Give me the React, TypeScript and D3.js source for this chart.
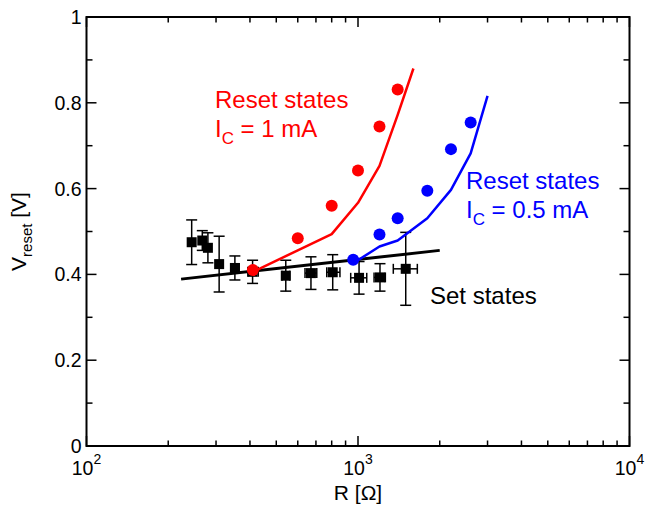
import React, { useEffect, useRef } from "react";
import * as d3 from "d3";

// set states (black squares with error bars)
const setR = [244, 267, 280, 308, 352, 409, 542, 671, 807, 1009, 1205, 1499];
const setV = [0.475, 0.479, 0.462, 0.424, 0.415, 0.406, 0.397, 0.403, 0.405, 0.392, 0.393, 0.413];
const setVErr = [0.052, 0.023, 0.035, 0.065, 0.028, 0.027, 0.036, 0.038, 0.041, 0.038, 0.032, 0.085];
const setRLo = [244, 267, 280, 308, 340, 393, 525, 638, 767, 940, 1146, 1349];
const setRHi = [244, 267, 280, 308, 365, 429, 560, 705, 858, 1077, 1261, 1654];
const setFitR = [223, 2000];
const setFitV = [0.389, 0.456];

// reset states, Ic = 1 mA
const reset1R = [410, 600, 800, 1000, 1200, 1400];
const reset1V = [0.41, 0.484, 0.56, 0.642, 0.745, 0.831];
const model1R = [410, 600, 800, 1000, 1200, 1400, 1600];
const model1V = [0.406, 0.456, 0.494, 0.567, 0.653, 0.772, 0.88];

// reset states, Ic = 0.5 mA
const reset05R = [960, 1200, 1400, 1800, 2200, 2600];
const reset05V = [0.434, 0.493, 0.531, 0.595, 0.692, 0.754];
const model05R = [960, 1200, 1400, 1800, 2200, 2600, 3000];
const model05V = [0.426, 0.465, 0.479, 0.531, 0.597, 0.682, 0.816];

const yTickLabels = ["0", "0.2", "0.4", "0.6", "0.8", "1"];
const xTickExps = [2, 3, 4];

const FONT = "'Liberation Sans', Arial, Helvetica, sans-serif";

const Chart = () => {
  const ref = useRef<SVGSVGElement>(null);

  useEffect(() => {
    const width = 645;
    const height = 507;
    const left = 86.5;
    const right = 629.5;
    const top = 17;
    const bottom = 446;

    const x = d3.scaleLog().domain([100, 10000]).range([left, right]);
    const y = d3.scaleLinear().domain([0, 1]).range([bottom, top]);

    const svg = d3.select(ref.current).attr("width", width).attr("height", height);
    svg.selectAll("*").remove();

    // frame
    svg
      .append("rect")
      .attr("x", left)
      .attr("y", top)
      .attr("width", right - left)
      .attr("height", bottom - top)
      .attr("fill", "none")
      .attr("stroke", "#000")
      .attr("stroke-width", 2);

    // x ticks (bottom + top, inward)
    const xMajor = xTickExps.map((e) => Math.pow(10, e));
    const xMinor: number[] = [];
    [100, 1000].forEach((d) => {
      for (let k = 2; k <= 9; k++) xMinor.push(d * k);
    });
    const ticks = svg.append("g").attr("stroke", "#000").attr("stroke-width", 1.5);
    xMajor.concat(xMinor).forEach((v) => {
      const len = xMajor.includes(v) ? 10 : 5.5;
      ticks.append("line").attr("x1", x(v)).attr("x2", x(v)).attr("y1", bottom).attr("y2", bottom - len);
      ticks.append("line").attr("x1", x(v)).attr("x2", x(v)).attr("y1", top).attr("y2", top + len);
    });
    // y ticks (left + right)
    d3.range(0, 11).forEach((i) => {
      const v = i / 10;
      const len = i % 2 === 0 ? 10 : 6;
      ticks.append("line").attr("x1", left).attr("x2", left + len).attr("y1", y(v)).attr("y2", y(v));
      ticks.append("line").attr("x1", right).attr("x2", right - len).attr("y1", y(v)).attr("y2", y(v));
    });

    // tick labels
    yTickLabels.forEach((t) => {
      svg
        .append("text")
        .attr("x", left - 5)
        .attr("y", y(+t))
        .attr("dy", "0.36em")
        .attr("text-anchor", "end")
        .attr("font-family", FONT)
        .attr("font-size", 19.5)
        .text(t);
    });
    xTickExps.forEach((e) => {
      const t = svg
        .append("text")
        .attr("x", x(Math.pow(10, e)))
        .attr("y", 475)
        .attr("text-anchor", "middle")
        .attr("font-family", FONT)
        .attr("font-size", 19.5);
      t.append("tspan").text("10");
      t.append("tspan").attr("dy", -11).attr("font-size", 14).text(String(e));
    });

    // axis titles
    const xt = svg
      .append("text")
      .attr("x", (left + right) / 2)
      .attr("y", 500)
      .attr("text-anchor", "middle")
      .attr("font-family", FONT)
      .attr("font-size", 21);
    xt.text("R [Ω]");

    const yt = svg
      .append("text")
      .attr("transform", `translate(26, ${(top + bottom) / 2}) rotate(-90)`)
      .attr("text-anchor", "middle")
      .attr("font-family", FONT)
      .attr("font-size", 21);
    yt.append("tspan").text("V");
    yt.append("tspan").attr("dy", 6).attr("font-size", 15).text("reset");
    yt.append("tspan").attr("dy", -6).text(" [V]");

    // error bars
    const eb = svg.append("g").attr("stroke", "#000").attr("stroke-width", 1.5);
    setR.forEach((r, i) => {
      const cx = x(r);
      const y1 = y(setV[i] + setVErr[i]);
      const y2 = y(setV[i] - setVErr[i]);
      eb.append("line").attr("x1", cx).attr("x2", cx).attr("y1", y1).attr("y2", y2);
      eb.append("line").attr("x1", cx - 5.5).attr("x2", cx + 5.5).attr("y1", y1).attr("y2", y1);
      eb.append("line").attr("x1", cx - 5.5).attr("x2", cx + 5.5).attr("y1", y2).attr("y2", y2);
      if (setRHi[i] > setRLo[i]) {
        const x1 = x(setRLo[i]);
        const x2 = x(setRHi[i]);
        const cy = y(setV[i]);
        eb.append("line").attr("x1", x1).attr("x2", x2).attr("y1", cy).attr("y2", cy);
        eb.append("line").attr("x1", x1).attr("x2", x1).attr("y1", cy - 5).attr("y2", cy + 5);
        eb.append("line").attr("x1", x2).attr("x2", x2).attr("y1", cy - 5).attr("y2", cy + 5);
      }
    });
    svg
      .append("g")
      .selectAll("rect")
      .data(setR)
      .enter()
      .append("rect")
      .attr("x", (d) => x(d) - 5)
      .attr("y", (d, i) => y(setV[i]) - 5)
      .attr("width", 10)
      .attr("height", 10)
      .attr("fill", "#000");

    const line = d3
      .line<number>()
      .x((d) => x(d))
      .y(() => 0);

    const drawLine = (rs: number[], vs: number[], color: string, w: number) => {
      const l = d3
        .line<number>()
        .x((d) => x(d))
        .y((d, i) => y(vs[i]));
      svg
        .append("path")
        .datum(rs)
        .attr("fill", "none")
        .attr("stroke", color)
        .attr("stroke-width", w)
        .attr("stroke-linejoin", "round")
        .attr("d", l);
    };
    void line;

    drawLine(setFitR, setFitV, "#000", 3);
    drawLine(model1R, model1V, "#ff0000", 2.5);
    drawLine(model05R, model05V, "#0000ff", 2.5);

    const dots = (rs: number[], vs: number[], color: string) => {
      svg
        .append("g")
        .selectAll("circle")
        .data(rs)
        .enter()
        .append("circle")
        .attr("cx", (d) => x(d))
        .attr("cy", (d, i) => y(vs[i]))
        .attr("r", 6)
        .attr("fill", color);
    };
    dots(reset1R, reset1V, "#ff0000");
    dots(reset05R, reset05V, "#0000ff");

    // annotations
    const note = (lines: string[], sub: string, rest: string, tx: number, ty: number, color: string) => {
      const g = svg.append("g").attr("font-family", FONT).attr("font-size", 24).attr("fill", color);
      g.append("text").attr("x", tx).attr("y", ty).text(lines[0]);
      const t2 = g.append("text").attr("x", tx).attr("y", ty + 29);
      t2.append("tspan").text("I");
      t2.append("tspan").attr("dy", 7).attr("font-size", 17).text(sub);
      t2.append("tspan").attr("dy", -7).text(rest);
    };
    note(["Reset states"], "C", " = 1 mA", 215, 108, "#ff0000");
    note(["Reset states"], "C", " = 0.5 mA", 466, 189, "#0000ff");
    svg
      .append("text")
      .attr("x", 430)
      .attr("y", 303.5)
      .attr("font-family", FONT)
      .attr("font-size", 24)
      .text("Set states");
  }, []);

  return <svg ref={ref} style={{ position: "absolute", left: 0, top: 0, background: "#fff" }} />;
};

export default function App() {
  return <Chart />;
}
